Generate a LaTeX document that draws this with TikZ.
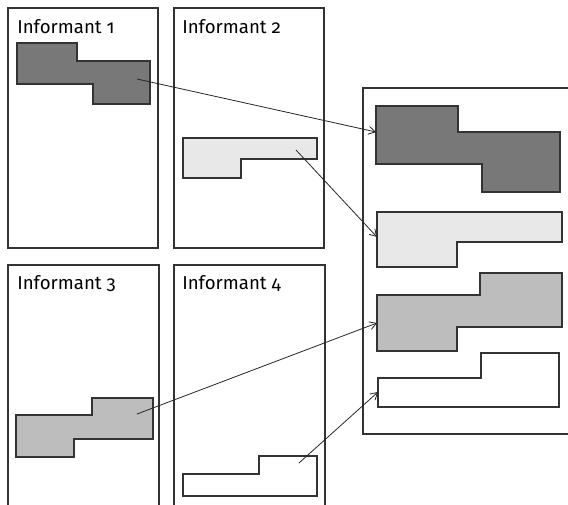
\documentclass[tikz,border=0pt]{standalone}
\usepackage{fontspec}
\setmainfont{Fira Sans}[Numbers=OldStyle]
\usepackage{xcolor}
\usepackage{tikz}
\usetikzlibrary{positioning,arrows.meta,shapes}

\definecolor{darkgrey}{gray}{0.47}
\definecolor{midgrey}{gray}{0.74}
\definecolor{lightgrey}{gray}{0.91}

\tikzset{
  panel/.style={draw=black!80, line width=0.8pt},
  blob/.style={draw=black!80, line width=0.8pt},
  infolabel/.style={anchor=base west, inner sep=0pt, font=\fontsize{14}{16}\selectfont},
  link/.style={-{Straight Barb[length=5pt, width=6pt]}, line width=0.6pt, draw=black!85}
}

\begin{document}
\begin{tikzpicture}[x=0.75pt, y=-0.75pt]
  \useasboundingbox (0,0) rectangle (568,504);
  \clip (0,0) rectangle (568,504);

  % the four informants and the merged sheet
  \draw[panel] (8,8) rectangle (158,248);
  \draw[panel] (174,8) rectangle (324,248);
  \draw[panel] (8,265) rectangle (159,530);
  \draw[panel] (174,265) rectangle (325,530);
  \draw[panel] (363,88) rectangle (600,434);

  \node (inf1) [infolabel] at (17,33) {Informant 1};
  \node (inf2) [infolabel] at (182,33) {Informant 2};
  \node (inf3) [infolabel] at (17,289) {Informant 3};
  \node (inf4) [infolabel] at (182,289) {Informant 4};

  % areas drawn by each informant
  \draw[blob, fill=darkgrey] (17,43) -- (77,43) -- (77,61) -- (150,61) -- (150,104) -- (93,104) -- (93,84) -- (17,84) -- cycle;
  \draw[blob, fill=lightgrey] (183,138) -- (317,138) -- (317,159) -- (241,159) -- (241,178) -- (183,178) -- cycle;
  \draw[blob, fill=midgrey] (16,415) -- (92,415) -- (92,398) -- (153,398) -- (153,439) -- (74,439) -- (74,457) -- (16,457) -- cycle;
  \draw[blob, fill=white] (183,474) -- (259,474) -- (259,456) -- (317,456) -- (317,496) -- (183,496) -- cycle;

  % the same areas on the merged sheet
  \draw[blob, fill=darkgrey] (376,106) -- (458,106) -- (458,132) -- (560,132) -- (560,192) -- (482,192) -- (482,164) -- (376,164) -- cycle;
  \draw[blob, fill=lightgrey] (377,212) -- (562,212) -- (562,242) -- (457,242) -- (457,267) -- (377,267) -- cycle;
  \draw[blob, fill=midgrey] (377,295) -- (480,295) -- (480,273) -- (562,273) -- (562,327) -- (457,327) -- (457,351) -- (377,351) -- cycle;
  \draw[blob, fill=white] (378,378) -- (481,378) -- (481,353) -- (559,353) -- (559,407) -- (378,407) -- cycle;

  \coordinate (from1) at (137,79);
  \coordinate (from2) at (296,150);
  \coordinate (from3) at (137,414);
  \coordinate (from4) at (299,463);
  \coordinate (to1) at (376,132);
  \coordinate (to2) at (377,237);
  \coordinate (to3) at (377,323);
  \coordinate (to4) at (378,392);

  \draw[link] (from1) -- (to1);
  \draw[link] (from2) -- (to2);
  \draw[link] (from3) -- (to3);
  \draw[link] (from4) -- (to4);
\end{tikzpicture}
\end{document}
